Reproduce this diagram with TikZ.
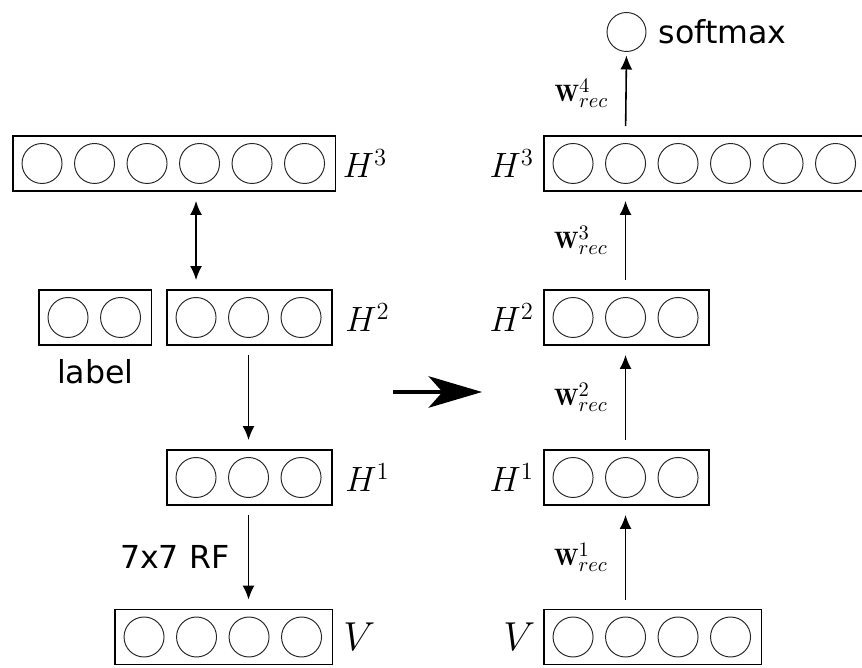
\documentclass[tikz,border=0pt]{standalone}
\usepackage{fix-cm}
\usepackage{fontspec}
\newfontfamily\labelfont{DejaVu Sans}
\DeclareMathSizes{13.5}{13.5}{11.7}{9}
\usetikzlibrary{arrows.meta, positioning}

\tikzset{
  layerbox/.style={draw, line width=1.1pt, minimum height=1.1cm, inner sep=0pt},
  unit/.style={circle, draw=black!85, line width=0.55pt, minimum size=0.8cm, inner sep=0pt},
  layername/.style={inner sep=2pt, font=\fontsize{20}{24}\selectfont},
  inputname/.style={layername, font=\fontsize{23}{27}\selectfont},
  weightname/.style={inner sep=2pt, font=\fontsize{13.5}{16}\selectfont},
  textname/.style={inner sep=2pt, font=\labelfont\fontsize{18}{22}\selectfont},
  link/.style={->, line width=0.9pt, shorten <=0.18cm, shorten >=0.18cm},
  >={Latex[length=0.28cm, width=0.24cm]},
}

\begin{document}
\begin{tikzpicture}
  \useasboundingbox (0,0) rectangle (17.24,13.34);

  % layers before the mapping (left)
  \node[layerbox, minimum width=6.45cm] (lh3) at (3.485,10.07) {};
  \node[layerbox, minimum width=2.25cm] (llab) at (1.905,6.99) {};
  \node[layerbox, minimum width=3.3cm] (lh2) at (4.99,6.99) {};
  \node[layerbox, minimum width=3.3cm] (lh1) at (4.99,3.79) {};
  \node[layerbox, minimum width=4.35cm] (lv) at (4.475,0.6) {};

  % layers after the mapping (right)
  \node[layerbox, minimum width=6.45cm] (rh3) at (14.105,10.07) {};
  \node[layerbox, minimum width=3.3cm] (rh2) at (12.53,6.99) {};
  \node[layerbox, minimum width=3.3cm] (rh1) at (12.53,3.79) {};
  \node[layerbox, minimum width=4.35cm] (rv) at (13.055,0.6) {};

  % units in each layer
  \foreach \name/\n in {lh3/6, llab/2, lh2/3, lh1/3, lv/4, rh3/6, rh2/3, rh1/3, rv/4}
    \foreach \i in {1,...,\n}
      \node[unit, xshift={(1.05*\i-0.45)*1cm}] (\name-\i) at (\name.west) {};

  \node[unit, minimum size=0.78cm] (sm) at (12.53,12.7) {};

  % layer names
  \node[layername, right=0.05cm of lh3] (lh3-name) {$H^3$};
  \node[layername, right=0.17cm of lh2] (lh2-name) {$H^2$};
  \node[layername, right=0.17cm of lh1] (lh1-name) {$H^1$};
  \node[inputname, right=0.12cm of lv] (lv-name) {$V$};
  \node[layername, left=0.11cm of rh3] (rh3-name) {$H^3$};
  \node[layername, left=0.11cm of rh2] (rh2-name) {$H^2$};
  \node[layername, left=0.11cm of rh1] (rh1-name) {$H^1$};
  \node[inputname, left=0.08cm of rv] (rv-name) {$V$};
  \node[textname, below=0.19cm of llab] (llab-name) {label};
  \node[textname, right=0.17cm of sm] (sm-name) {softmax};

  % connections, left
  \draw[link, <->] (lh3.south -| lh2-1) -- (lh2.north -| lh2-1);
  \draw[link] (lh2.south -| lh2-2) -- (lh1.north -| lh1-2);
  \draw[link] (lh1.south -| lh1-2) -- node[textname, midway, left=0.3cm] {7x7 RF} (lv.north -| lh1-2);

  % connections, right
  \draw[link] (rv.north -| rv-2) -- node[weightname, midway, left=0.27cm] {$\mathbf{W}^1_{rec}$} (rh1.south -| rv-2);
  \draw[link] (rh1.north -| rh1-2) -- node[weightname, midway, left=0.27cm] {$\mathbf{W}^2_{rec}$} (rh2.south -| rh1-2);
  \draw[link] (rh2.north -| rh2-2) -- node[weightname, midway, left=0.27cm] {$\mathbf{W}^3_{rec}$} (rh3.south -| rh2-2);
  \draw[link, shorten >=0.07cm] (rh3.north -| rh3-2) -- node[weightname, midway, left=0.27cm] {$\mathbf{W}^4_{rec}$} (sm.south);

  % mapping arrow
  \coordinate (mapstart) at (7.86,5.5);
  \coordinate (mapend) at (9.64,5.5);
  \draw[line width=1.9pt, -{Stealth[length=1.07cm, width=0.63cm, inset=0.28cm]}] (mapstart) -- (mapend);
\end{tikzpicture}
\end{document}
